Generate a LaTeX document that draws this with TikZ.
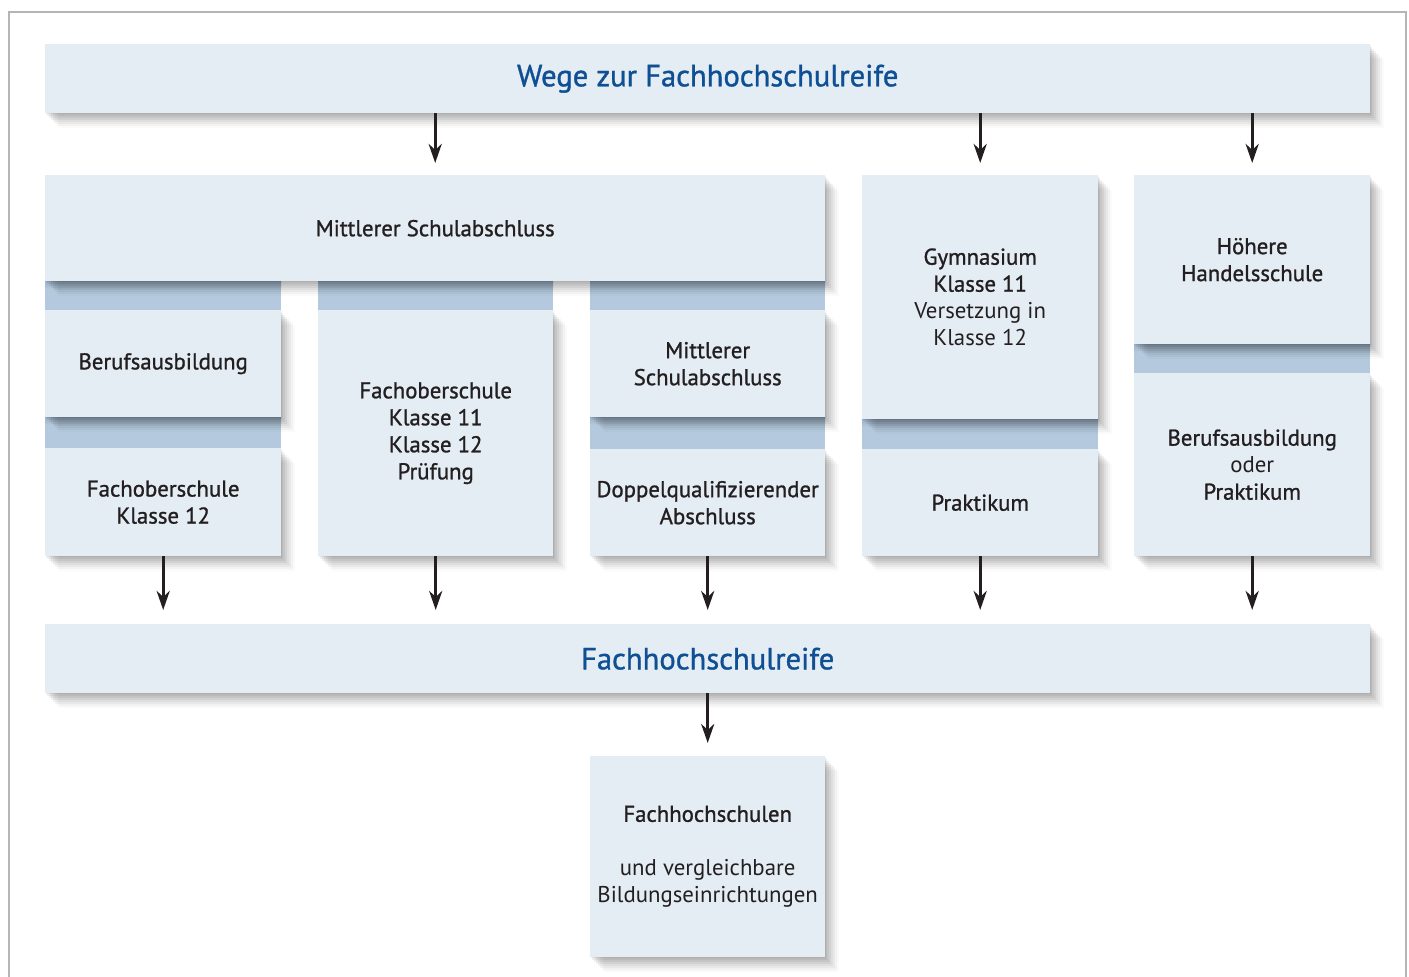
\documentclass[tikz,border=0pt]{standalone}
\usepackage{fontspec}
\setmainfont{PT Sans}
\newfontfamily\medf[FakeBold=1.1]{PT Sans}
\usetikzlibrary{arrows.meta,shadows}
\definecolor{boxfill}{HTML}{E4ECF4}
\definecolor{band}{HTML}{B4C9DD}
\definecolor{banddark}{HTML}{9CB1C6}
\definecolor{titleblue}{HTML}{0F4F93}
\definecolor{txt}{HTML}{231F20}
\definecolor{framec}{HTML}{B5B5B5}
\newcommand\boxfont{\fontsize{22.8}{27}\selectfont}
\newcommand\titlefont{\fontsize{30.6}{34}\selectfont\medf}
\tikzset{
  sh/.style={
    drop shadow={shadow xshift=0.5pt,shadow yshift=-1pt,opacity=0.06,fill=black},
    drop shadow={shadow xshift=2pt,shadow yshift=-2.5pt,opacity=0.06,fill=black},
    drop shadow={shadow xshift=4pt,shadow yshift=-4.5pt,opacity=0.06,fill=black},
    drop shadow={shadow xshift=6pt,shadow yshift=-6.5pt,opacity=0.055,fill=black},
    drop shadow={shadow xshift=8pt,shadow yshift=-8.5pt,opacity=0.05,fill=black},
    drop shadow={shadow xshift=10pt,shadow yshift=-10.5pt,opacity=0.04,fill=black},
    drop shadow={shadow xshift=12pt,shadow yshift=-12.5pt,opacity=0.03,fill=black},
    drop shadow={shadow xshift=14pt,shadow yshift=-14.5pt,opacity=0.02,fill=black}},
  box/.style={sh,fill=boxfill,draw=none,inner sep=0pt,align=center,text=txt,
    font=\boxfont,anchor=north west},
  arr/.style={draw=txt,line width=3.2pt,-{Stealth[length=19pt,width=13pt,inset=6pt]}}
}
\begin{document}
\begin{tikzpicture}[x=1pt,y=-1pt]
\useasboundingbox (0,0) rectangle (1409,977);
\draw[framec,line width=2pt] (9,995) -- (9,12) -- (1406,12) -- (1406,995);
% bands
\foreach \a/\b/\c/\d in {45/281/281/310, 318/281/553/310, 590/281/825/310,
  45/417/281/449, 590/417/825/449, 862/419/1098/449, 1134/344/1370/373}{
  \fill[band] (\a,\b) rectangle (\c,\d);
  \shade[top color=banddark,bottom color=band] (\a,\b) rectangle (\c,\b+8);
}
% boxes
\node[box,minimum width=1325pt,minimum height=69pt] (top) at (45,44)
  {\titlefont\textcolor{titleblue}{Wege zur Fachhochschulreife}};
\node[box,minimum width=780pt,minimum height=106pt] (msa) at (45,175)
  {\medf Mittlerer Schulabschluss};
\node[box,minimum width=236pt,minimum height=107pt] (beruf) at (45,310)
  {\medf Berufsausbildung};
\node[box,minimum width=236pt,minimum height=108pt] (fos12) at (45,448)
  {\medf Fachoberschule\\\medf Klasse 12};
\node[box,minimum width=235pt,minimum height=246pt] (fos) at (318,310)
  {\medf Fachoberschule\\\medf Klasse 11\\\medf Klasse 12\\\medf Prüfung};
\node[box,minimum width=235pt,minimum height=107pt] (msa2) at (590,310)
  {\medf Mittlerer\\\medf Schulabschluss};
\node[box,minimum width=235pt,minimum height=107pt] (doppel) at (590,449)
  {\medf Doppelqualifizierender\\\medf Abschluss};
\node[box,minimum width=236pt,minimum height=244pt] (gym) at (862,175)
  {\medf Gymnasium\\\medf Klasse 11\\Versetzung in\\Klasse 12};
\node[box,minimum width=236pt,minimum height=107pt] (prakt) at (862,449)
  {\medf Praktikum};
\node[box,minimum width=236pt,minimum height=169pt] (hhs) at (1134,175)
  {\medf Höhere\\\medf Handelsschule};
\node[box,minimum width=236pt,minimum height=183pt] (bop) at (1134,373)
  {\medf Berufsausbildung\\oder\\\medf Praktikum};
\node[box,minimum width=1325pt,minimum height=69pt] (fhr) at (45,624)
  {\titlefont\textcolor{titleblue}{Fachhochschulreife}};
\node[box,minimum width=235pt,minimum height=201pt] (fhs) at (590,756)
  {\medf Fachhochschulen\\[27pt]und vergleichbare\\Bildungseinrichtungen};
% arrows
\draw[arr] (top.south -| msa.north) -- ([yshift=12pt]msa.north);
\draw[arr] (top.south -| gym.north) -- ([yshift=12pt]gym.north);
\draw[arr] (top.south -| hhs.north) -- ([yshift=12pt]hhs.north);
\foreach \n in {fos12,fos,doppel,prakt,bop}{
  \draw[arr] (\n.south) -- ([yshift=14pt]fhr.north -| \n.south);
}
\draw[arr] (fhr.south -| fhs.north) -- ([yshift=13pt]fhs.north);
\end{tikzpicture}
\end{document}
